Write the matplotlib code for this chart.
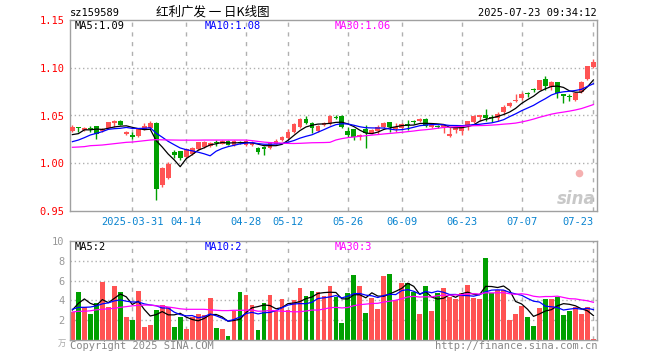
import matplotlib
matplotlib.use('Agg')
import matplotlib.pyplot as plt
import numpy as np
import pandas as pd

# ---- data (daily, 2025-03-17 .. 2025-07-23) ----
opens = [1.034, 1.038, 1.035, 1.037, 1.039, 1.034, 1.037, 1.042, 1.044, 1.031,
         1.030, 1.029, 1.036, 1.037, 1.042, 0.977, 0.985, 1.012, 1.013, 1.007,
         1.010, 1.015, 1.017, 1.018, 1.022, 1.020, 1.023, 1.019, 1.022, 1.019,
         1.019, 1.016, 1.017, 1.016, 1.020, 1.024, 1.026, 1.033, 1.038, 1.046,
         1.042, 1.034, 1.040, 1.041, 1.048, 1.049, 1.034, 1.036, 1.027, 1.036,
         1.032, 1.034, 1.038, 1.043, 1.036, 1.037, 1.041, 1.044, 1.044, 1.046,
         1.038, 1.039, 1.038, 1.029, 1.035, 1.034, 1.039, 1.043, 1.048, 1.051,
         1.048, 1.047, 1.054, 1.060, 1.065, 1.068, 1.073, 1.078, 1.077, 1.088,
         1.080, 1.085, 1.073, 1.070, 1.066, 1.075, 1.088, 1.101]
closes = [1.038, 1.037, 1.037, 1.036, 1.031, 1.036, 1.043, 1.044, 1.040, 1.033,
          1.028, 1.036, 1.039, 1.042, 0.973, 0.995, 0.999, 1.009, 1.006, 1.015,
          1.016, 1.022, 1.022, 1.021, 1.021, 1.023, 1.019, 1.023, 1.021, 1.023,
          1.021, 1.012, 1.015, 1.021, 1.023, 1.028, 1.033, 1.041, 1.046, 1.042,
          1.037, 1.039, 1.042, 1.049, 1.047, 1.038, 1.030, 1.028, 1.030, 1.032,
          1.035, 1.038, 1.042, 1.038, 1.038, 1.041, 1.040, 1.043, 1.046, 1.039,
          1.040, 1.038, 1.040, 1.031, 1.037, 1.040, 1.044, 1.049, 1.050, 1.047,
          1.047, 1.052, 1.059, 1.063, 1.066, 1.073, 1.072, 1.077, 1.087, 1.081,
          1.085, 1.074, 1.070, 1.069, 1.074, 1.085, 1.102, 1.106]
highs = [1.040, 1.038, 1.038, 1.039, 1.039, 1.037, 1.043, 1.045, 1.045, 1.034,
         1.033, 1.037, 1.042, 1.044, 1.043, 0.996, 1.001, 1.014, 1.013, 1.016,
         1.017, 1.022, 1.023, 1.022, 1.024, 1.024, 1.024, 1.024, 1.023, 1.023,
         1.023, 1.017, 1.018, 1.022, 1.025, 1.029, 1.036, 1.042, 1.047, 1.049,
         1.043, 1.040, 1.043, 1.050, 1.050, 1.050, 1.038, 1.036, 1.031, 1.040,
         1.036, 1.040, 1.043, 1.043, 1.042, 1.042, 1.045, 1.045, 1.047, 1.047,
         1.041, 1.040, 1.040, 1.038, 1.037, 1.040, 1.044, 1.050, 1.051, 1.057,
         1.050, 1.054, 1.061, 1.064, 1.072, 1.075, 1.075, 1.079, 1.087, 1.091,
         1.086, 1.085, 1.073, 1.073, 1.075, 1.086, 1.102, 1.109]
lows = [1.033, 1.033, 1.034, 1.033, 1.025, 1.033, 1.036, 1.038, 1.040, 1.030,
        1.025, 1.028, 1.035, 1.036, 0.962, 0.975, 0.984, 1.005, 1.003, 1.006,
        1.009, 1.014, 1.016, 1.017, 1.018, 1.020, 1.019, 1.018, 1.020, 1.018,
        1.018, 1.010, 1.009, 1.015, 1.020, 1.023, 1.025, 1.032, 1.037, 1.041,
        1.032, 1.033, 1.039, 1.040, 1.046, 1.037, 1.028, 1.024, 1.024, 1.016,
        1.031, 1.031, 1.037, 1.033, 1.033, 1.036, 1.035, 1.041, 1.043, 1.038,
        1.037, 1.037, 1.032, 1.028, 1.032, 1.030, 1.035, 1.042, 1.044, 1.044,
        1.043, 1.044, 1.052, 1.059, 1.064, 1.066, 1.069, 1.075, 1.077, 1.077,
        1.077, 1.068, 1.063, 1.065, 1.065, 1.074, 1.087, 1.100]
volumes = [2.86, 4.85, 3.3, 2.63, 3.77, 5.86, 3.3, 5.45, 4.85, 2.32,
           2.02, 4.95, 1.31, 1.52, 3.03, 3.54, 3.3, 1.31, 2.32, 1.11,
           2.32, 2.63, 2.49, 4.24, 1.21, 1.11, 0.4, 2.93, 4.85, 4.55,
           3.54, 1.01, 3.74, 4.55, 2.93, 4.14, 3.03, 4.04, 5.25, 4.44,
           4.95, 4.85, 4.44, 5.45, 4.31, 1.75, 4.78, 6.57, 5.45, 2.76,
           4.28, 3.13, 6.46, 6.67, 4.04, 5.79, 5.72, 4.88, 2.63, 5.45,
           2.96, 4.78, 5.29, 4.38, 4.14, 4.78, 5.56, 4.28, 4.14, 8.32,
           4.71, 5.05, 5.05, 2.02, 2.63, 3.47, 2.36, 1.45, 3.27, 4.11,
           4.14, 4.31, 2.53, 2.93, 3.37, 2.63, 3.3, 0.1]

# moving-average values at the start of the window (history before 03-17 not shown)
ma5_head = [1.030, 1.031, 1.035, 1.035]
ma10_head = [1.0226, 1.0243, 1.0268, 1.0296, 1.0313, 1.0331, 1.0355, 1.0362, 1.0366]
ma30_head = [1.0167, 1.0170, 1.0174, 1.0184, 1.0187, 1.0191, 1.0198, 1.0205, 1.0212,
             1.0219, 1.0222, 1.0229, 1.0236, 1.0243, 1.0247, 1.0245, 1.0244, 1.0243,
             1.0242, 1.0242, 1.0242, 1.0242, 1.0243, 1.0243, 1.0243, 1.0243, 1.0243,
             1.0243, 1.0243]
vma5_head = [3.03, 3.7, 4.15, 3.7]
vma10_head = [3.1, 3.3, 3.3, 3.33, 3.45, 3.65, 3.75, 3.95, 4.05]
vma30_head = [2.83, 2.9, 2.9, 2.95, 3.05, 3.1, 3.15, 3.2, 3.3, 3.37, 3.45, 3.5,
              3.53, 3.53, 3.45, 3.42, 3.33, 3.25, 3.15, 3.1, 3.1, 3.1, 3.1, 3.05,
              3.0, 2.97, 2.97, 3.0, 3.0]

tick_pos = [10, 19, 29, 36, 46, 55, 65, 75, 87]
tick_labels = ['2025-03-31', '04-14', '04-28', '05-12', '05-26', '06-09',
               '06-23', '07-07', '07-23']
price_ticks = [0.95, 1.00, 1.05, 1.10, 1.15]
vol_ticks = [2, 4, 6, 8, 10]


def moving(values, n, head):
    s = pd.Series(values).rolling(n).mean()
    s.iloc[:len(head)] = head
    return s.values


ma5 = moving(closes, 5, ma5_head)
ma10 = moving(closes, 10, ma10_head)
ma30 = moving(closes, 30, ma30_head)
vma5 = moving(volumes, 5, vma5_head)
vma10 = moving(volumes, 10, vma10_head)
vma30 = moving(volumes, 30, vma30_head)

RED = '#ff5353'
GREEN = '#00a000'
MONO = 'DejaVu Sans Mono'
W, H = 660, 360


def box(x0, y0, x1, y1):
    return [x0 / W, 1 - y1 / H, (x1 - x0) / W, (y1 - y0) / H]


def ftext(x, y, s, **kw):
    fig.text(x / W, 1 - y / H, s, **kw)


fig = plt.figure(figsize=(6.6, 3.6), dpi=100)
ax = fig.add_axes(box(70, 20, 597, 211))
axv = fig.add_axes(box(70, 241, 597, 340))

x = np.arange(len(closes))
o = np.array(opens)
c = np.array(closes)
up = c >= o
colors = np.where(up, RED, GREEN)

for a in (ax, axv):
    a.set_xlim(-0.4, 87.6)
    for sp in a.spines.values():
        sp.set_color('#a0a0a0')
        sp.set_linewidth(1)
    for p in tick_pos:
        a.axvline(p, color='#b0b0b0', lw=1, linestyle=(0, (3, 4)), zorder=0)
    a.set_xticks([])

# price panel
for p in price_ticks[1:-1]:
    ax.axhline(p, color='#b0b0b0', lw=1, linestyle=(0, (1, 2)), zorder=0)
ax.vlines(x, lows, highs, colors=colors, lw=1, zorder=2)
body = np.maximum(np.abs(c - o), 0.0012)
ax.bar(x, body, bottom=np.minimum(o, c), width=0.8, color=colors, zorder=3)
ax.plot(x, ma5, color='black', lw=0.9, zorder=4)
ax.plot(x, ma10, color='#0000ff', lw=0.9, zorder=4)
ax.plot(x, ma30, color='#ff00ff', lw=0.9, zorder=4)
ax.set_ylim(0.95, 1.15)
ax.set_yticks(price_ticks)
ax.set_yticklabels(['%.2f' % v for v in price_ticks], family=MONO,
                   fontsize=7.5, color='#ff0000')
ax.tick_params(axis='y', length=0, pad=4)

# sina watermark logo (eye) in the lower right of the price panel
ax.scatter([0.965], [0.2], s=30, color='#f5b0b0', transform=ax.transAxes,
           zorder=1, linewidths=0)

# volume panel
for p in vol_ticks[:-1]:
    axv.axhline(p, color='#b0b0b0', lw=1, linestyle=(0, (1, 2)), zorder=0)
axv.bar(x, volumes, width=0.8, color=colors, zorder=2)
axv.plot(x, vma5, color='black', lw=0.9, zorder=4)
axv.plot(x, vma10, color='#0000ff', lw=0.9, zorder=4)
axv.plot(x, vma30, color='#ff00ff', lw=0.9, zorder=4)
axv.set_ylim(0, 10)
axv.set_yticks(vol_ticks)
axv.set_yticklabels([str(v) for v in vol_ticks], family=MONO,
                    fontsize=7.5, color='#999999')
axv.tick_params(axis='y', length=0, pad=4)

# date labels
for p, lab in zip(tick_pos, tick_labels):
    ha = 'right' if p == tick_pos[-1] else 'center'
    xp = p + 0.1 if ha == 'right' else p
    ax.text(xp, -0.055, lab, transform=ax.get_xaxis_transform(), ha=ha,
            va='center', family=MONO, fontsize=7.5, color='#0a84d0')

# headers
ftext(70, 13, 'sz159589', family=MONO, fontsize=7.5, va='center', ha='left')
ftext(213, 12, '红利广发 一 日K线图', family=['Noto Sans CJK SC', 'DejaVu Sans'],
      fontsize=9, va='center', ha='center')
ftext(597, 13, '2025-07-23 09:34:12', family=MONO, fontsize=7.5, va='center',
      ha='right')
ftext(75, 26, 'MA5:1.09', family=MONO, fontsize=7.5, va='center', color='black')
ftext(205, 26, 'MA10:1.08', family=MONO, fontsize=7.5, va='center', color='#0000ff')
ftext(335, 26, 'MA30:1.06', family=MONO, fontsize=7.5, va='center', color='#ff00ff')
ftext(75, 247, 'MA5:2', family=MONO, fontsize=7.5, va='center', color='black')
ftext(205, 247, 'MA10:2', family=MONO, fontsize=7.5, va='center', color='#0000ff')
ftext(335, 247, 'MA30:3', family=MONO, fontsize=7.5, va='center', color='#ff00ff')

# watermark text and footer
ftext(596, 199, 'sina', fontsize=12, style='italic', weight='bold',
      color='#c8c8c8', ha='right', va='center')
ftext(66, 343, '万', family=['Noto Sans CJK SC', 'DejaVu Sans'], fontsize=6,
      color='#aaaaaa', ha='right', va='center')
ftext(70, 346, 'Copyright 2025 SINA.COM', family=MONO, fontsize=7.5,
      color='#888888', ha='left', va='center')
ftext(597, 346, 'http://finance.sina.com.cn', family=MONO, fontsize=7.5,
      color='#888888', ha='right', va='center')

fig.savefig('out.png', dpi=100)
